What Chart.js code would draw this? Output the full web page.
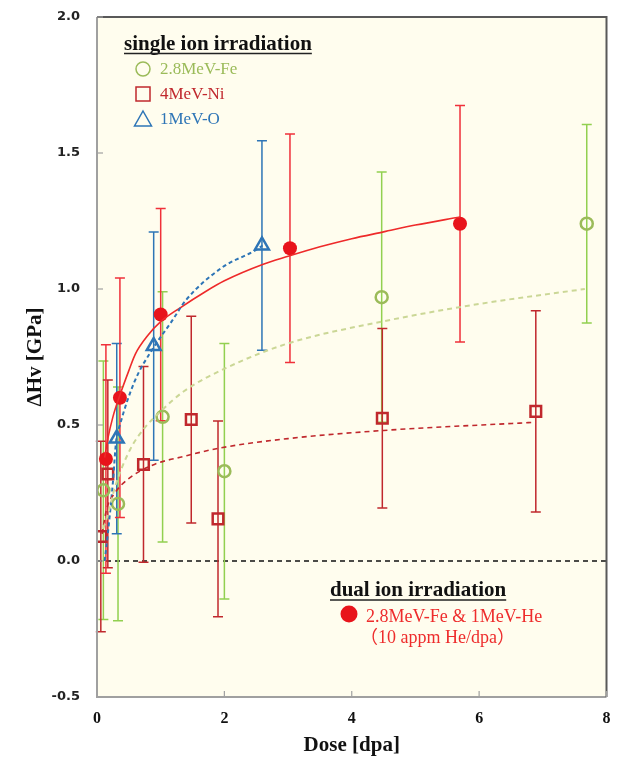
<!DOCTYPE html>
<html>
<head>
<meta charset="utf-8">
<script src="https://cdn.jsdelivr.net/npm/chart.js@4.4.1/dist/chart.umd.min.js"></script>
<style>
html,body{margin:0;padding:0;background:#fff;}
#wrap{width:617px;height:762px;}
</style>
</head>
<body>
<div id="wrap"><canvas id="c" width="617" height="762"></canvas></div>
<script>
// ---- data ----
const feDose = [0.10, 0.33, 1.03, 2.00, 4.47, 7.69];
const feHv   = [0.26, 0.21, 0.53, 0.33, 0.97, 1.24];
const feErr  = [0.475, 0.43, 0.46, 0.47, 0.46, 0.365];

const niDose = [0.06, 0.17, 0.73, 1.48, 1.90, 4.48, 6.89];
const niHv   = [0.09, 0.32, 0.355, 0.52, 0.155, 0.525, 0.55];
const niErr  = [0.35, 0.345, 0.36, 0.38, 0.36, 0.33, 0.37];

const oDose = [0.31, 0.89, 2.59];
const oHv   = [0.45, 0.79, 1.16];
const oErr  = [0.35, 0.42, 0.385];

const dualDose = [0.14, 0.36, 1.00, 3.03, 5.70];
const dualHv   = [0.375, 0.60, 0.906, 1.15, 1.24];
const dualErr  = [0.42, 0.44, 0.39, 0.42, 0.435];

// fitted trend curves
const dualFitDose = [0.12,0.17,0.25,0.36,0.5,0.6,0.8,1.0,1.3,1.7,2.0,2.6,3.0,3.5,4.0,4.5,5.0,5.7];
const dualFitHv   = [0.38,0.45,0.53,0.61,0.70,0.76,0.83,0.88,0.93,0.99,1.03,1.09,1.12,1.155,1.185,1.21,1.235,1.265];
const oFitDose = [0.12,0.17,0.25,0.30,0.36,0.59,0.875,1.17,1.4,1.97,2.47,2.6];
const oFitHv   = [0.0,0.10,0.29,0.44,0.50,0.66,0.78,0.88,0.96,1.08,1.14,1.16];
const feFitDose = [0.10,0.17,0.28,0.52,0.75,1.0,1.37,2.03,3.0,4.47,6.0,7.66];
const feFitHv   = [0.12,0.17,0.27,0.41,0.49,0.55,0.625,0.71,0.80,0.88,0.945,1.0];
const niFitDose = [0.08,0.15,0.28,0.48,0.9,1.37,1.92,3.0,4.5,6.88];
const niFitHv   = [0.10,0.19,0.25,0.30,0.355,0.385,0.415,0.45,0.48,0.51];

const xTicks = [0, 2, 4, 6, 8];
const yTicks = [-0.5, 0.0, 0.5, 1.0, 1.5, 2.0];

const singleTitle = 'single ion irradiation';
const singleLabels = ['2.8MeV-Fe', '4MeV-Ni', '1MeV-O'];
const dualTitle = 'dual ion irradiation';
const dualLabels = ['2.8MeV-Fe & 1MeV-He', '（10 appm He/dpa）'];

// ---- helpers ----
const pts = (xs, ys) => xs.map((x, i) => ({x: x, y: ys[i]}));

const C_FE = '#9BBB59', C_FE_ERR = '#92D050', C_FE_FIT = '#CBD796';
const C_NI = '#C0282D';
const C_O = '#2E75B6';
const C_DUAL = '#E8141B', C_DUAL_ERR = '#F0303A';
const SERIF = '"Liberation Serif", "Times New Roman", serif';

const bgPlugin = {
  id: 'bg',
  beforeDraw(chart) {
    const {ctx, chartArea: a} = chart;
    ctx.save();
    ctx.fillStyle = '#ffffff';
    ctx.fillRect(0, 0, chart.width, chart.height);
    ctx.fillStyle = '#FFFDEE';
    ctx.fillRect(a.left, a.top, a.right - a.left, a.bottom - a.top);
    ctx.restore();
  },
  beforeDatasetsDraw(chart) {
    const {ctx, chartArea: a, scales: {x, y}} = chart;
    ctx.save();
    // zero line
    ctx.strokeStyle = '#111';
    ctx.lineWidth = 1.3;
    ctx.setLineDash([5, 4]);
    ctx.beginPath();
    ctx.moveTo(a.left, y.getPixelForValue(0));
    ctx.lineTo(a.right, y.getPixelForValue(0));
    ctx.stroke();
    ctx.setLineDash([]);
    // error bars
    chart.data.datasets.forEach(ds => {
      if (!ds.errors) return;
      ctx.strokeStyle = ds.errColor;
      ctx.lineWidth = 1.5;
      ds.data.forEach((p, i) => {
        const px = x.getPixelForValue(p.x);
        const t = y.getPixelForValue(p.y + ds.errors[i]);
        const b = y.getPixelForValue(p.y - ds.errors[i]);
        ctx.beginPath();
        ctx.moveTo(px, t); ctx.lineTo(px, b);
        ctx.moveTo(px - 5, t); ctx.lineTo(px + 5, t);
        ctx.moveTo(px - 5, b); ctx.lineTo(px + 5, b);
        ctx.stroke();
      });
    });
    ctx.restore();
  },
  afterDraw(chart) {
    const {ctx, chartArea: a, scales: {x, y}} = chart;
    ctx.save();
    // frame
    ctx.strokeStyle = '#A0A0A0';
    ctx.lineWidth = 2;
    ctx.beginPath();
    ctx.moveTo(a.left, a.top); ctx.lineTo(a.left, a.bottom); ctx.lineTo(a.right, a.bottom);
    ctx.stroke();
    ctx.strokeStyle = '#595959';
    ctx.beginPath();
    ctx.moveTo(a.left, a.top); ctx.lineTo(a.right, a.top); ctx.lineTo(a.right, a.bottom);
    ctx.stroke();
    // inward ticks
    ctx.strokeStyle = '#A0A0A0';
    ctx.lineWidth = 1.2;
    y.ticks.forEach(t => {
      const py = y.getPixelForValue(t.value);
      ctx.beginPath(); ctx.moveTo(a.left, py); ctx.lineTo(a.left + 6, py); ctx.stroke();
    });
    x.ticks.forEach(t => {
      const px = x.getPixelForValue(t.value);
      ctx.beginPath(); ctx.moveTo(px, a.bottom); ctx.lineTo(px, a.bottom - 6); ctx.stroke();
    });

    // legend: single ion
    ctx.textBaseline = 'alphabetic';
    ctx.textAlign = 'left';
    ctx.fillStyle = '#111';
    ctx.font = 'bold 21px ' + SERIF;
    ctx.fillText(singleTitle, 124, 50);
    let w = ctx.measureText(singleTitle).width;
    ctx.strokeStyle = '#222'; ctx.lineWidth = 1.6;
    ctx.beginPath(); ctx.moveTo(124, 53.5); ctx.lineTo(124 + w, 53.5); ctx.stroke();

    ctx.font = '17px ' + SERIF;
    ctx.textBaseline = 'middle';
    const cols = [C_FE, C_NI, C_O];
    const ys = [69, 94, 119];
    ctx.lineWidth = 1.5;
    ctx.strokeStyle = C_FE;
    ctx.beginPath(); ctx.arc(143, ys[0], 7, 0, Math.PI * 2); ctx.stroke();
    ctx.strokeStyle = C_NI;
    ctx.strokeRect(136, ys[1] - 7, 14, 14);
    ctx.strokeStyle = C_O;
    ctx.beginPath(); ctx.moveTo(143, ys[2] - 8); ctx.lineTo(151.5, ys[2] + 7); ctx.lineTo(134.5, ys[2] + 7); ctx.closePath(); ctx.stroke();
    singleLabels.forEach((s, i) => {
      ctx.fillStyle = cols[i];
      ctx.fillText(s, 160, ys[i] + 1);
    });

    // legend: dual ion
    ctx.textBaseline = 'alphabetic';
    ctx.fillStyle = '#111';
    ctx.font = 'bold 21px ' + SERIF;
    ctx.fillText(dualTitle, 330, 596);
    w = ctx.measureText(dualTitle).width;
    ctx.strokeStyle = '#222'; ctx.lineWidth = 1.6;
    ctx.beginPath(); ctx.moveTo(330, 600); ctx.lineTo(330 + w, 600); ctx.stroke();
    ctx.fillStyle = C_DUAL;
    ctx.beginPath(); ctx.arc(349, 614, 8.5, 0, Math.PI * 2); ctx.fill();
    ctx.textBaseline = 'middle';
    ctx.font = '18px ' + SERIF + ', "Noto Sans CJK JP"';
    ctx.fillStyle = '#EE2C2C';
    ctx.fillText(dualLabels[0], 366, 617);
    ctx.fillText(dualLabels[1], 360, 638);
    ctx.restore();
  }
};

const cfg = {
  type: 'scatter',
  data: {
    datasets: [
      {label: 'fit Fe', data: pts(feFitDose, feFitHv), showLine: true, pointRadius: 0,
       borderColor: C_FE_FIT, borderWidth: 2, borderDash: [5, 4], cubicInterpolationMode: 'monotone', fill: false},
      {label: 'fit Ni', data: pts(niFitDose, niFitHv), showLine: true, pointRadius: 0,
       borderColor: C_NI, borderWidth: 1.6, borderDash: [5, 4], cubicInterpolationMode: 'monotone', fill: false},
      {label: 'fit O', data: pts(oFitDose, oFitHv), showLine: true, pointRadius: 0,
       borderColor: C_O, borderWidth: 2, borderDash: [4, 3], cubicInterpolationMode: 'monotone', fill: false},
      {label: 'fit dual', data: pts(dualFitDose, dualFitHv), showLine: true, pointRadius: 0,
       borderColor: '#EE2A2A', borderWidth: 1.6, cubicInterpolationMode: 'monotone', fill: false},
      {label: '2.8MeV-Fe', data: pts(feDose, feHv), errors: feErr, errColor: C_FE_ERR,
       pointStyle: 'circle', pointRadius: 6, pointBorderWidth: 2.5, borderColor: C_FE, backgroundColor: 'rgba(0,0,0,0)'},
      {label: '4MeV-Ni', data: pts(niDose, niHv), errors: niErr, errColor: C_NI,
       pointStyle: 'rect', pointRadius: 7.5, pointBorderWidth: 2.5, borderColor: C_NI, backgroundColor: 'rgba(0,0,0,0)'},
      {label: '1MeV-O', data: pts(oDose, oHv), errors: oErr, errColor: C_O,
       pointStyle: 'triangle', pointRadius: 8, pointBorderWidth: 2.5, borderColor: C_O, backgroundColor: 'rgba(0,0,0,0)'},
      {label: 'dual', data: pts(dualDose, dualHv), errors: dualErr, errColor: C_DUAL_ERR,
       pointStyle: 'circle', pointRadius: 7, pointBorderWidth: 0, borderColor: C_DUAL, backgroundColor: C_DUAL}
    ]
  },
  options: {
    responsive: false,
    animation: false,
    layout: {padding: {top: 17, right: 7, left: 0, bottom: 0}},
    plugins: {legend: {display: false}, tooltip: {enabled: false}},
    scales: {
      x: {
        type: 'linear', min: 0, max: 8,
        afterBuildTicks: s => { s.ticks = xTicks.map(v => ({value: v})); },
        afterFit: s => { s.height = 65; },
        grid: {display: false, drawTicks: true, tickLength: 12},
        border: {display: false},
        ticks: {padding: 0, color: '#111', font: {family: SERIF, size: 16, weight: 'bold'}},
        title: {display: true, text: 'Dose [dpa]', color: '#111',
                font: {family: SERIF, size: 21, weight: 'bold'}, padding: {top: 0, bottom: 4}}
      },
      y: {
        type: 'linear', min: -0.5, max: 2.0,
        afterBuildTicks: s => { s.ticks = yTicks.map(v => ({value: v})); },
        afterFit: s => { s.width = 97; },
        grid: {display: false, drawTicks: true, tickLength: 17},
        border: {display: false},
        ticks: {padding: 0, color: '#222', font: {family: '"DejaVu Sans", Verdana, sans-serif', size: 13, weight: 'bold'},
                callback: v => v.toFixed(1)},
        title: {display: true, text: 'ΔHv [GPa]', color: '#111',
                font: {family: SERIF, size: 21, weight: 'bold'}, padding: {top: 23, bottom: 0}}
      }
    }
  },
  plugins: [bgPlugin]
};

new Chart(document.getElementById('c'), cfg);
</script>
</body>
</html>
